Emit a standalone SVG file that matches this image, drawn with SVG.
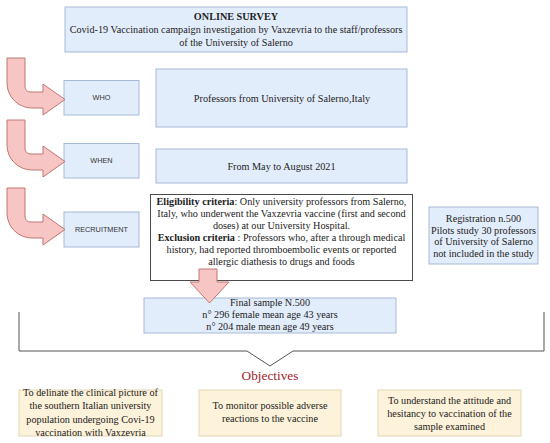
<svg xmlns="http://www.w3.org/2000/svg" width="550" height="443" viewBox="0 0 550 443">
<defs>
<style>
.blue{fill:#e2edfb;stroke:#a5b9d6;stroke-width:1}
.yel{fill:#fdf2da;stroke:#e3d7b5;stroke-width:1}
.wht{fill:#ffffff;stroke:#4a4a4a;stroke-width:1}
.t{font-family:"Liberation Serif","Times New Roman",serif;font-size:10.2px;fill:#222;text-anchor:middle}
.b{font-weight:bold}
.lab{font-family:"Liberation Sans",Arial,sans-serif;font-size:7.3px;fill:#333;text-anchor:middle}
.arr{fill:#f7c6c4;stroke:#c07773;stroke-width:1}
.brace{fill:none;stroke:#555;stroke-width:1}
</style>
<path id="bent" d="M7 0 H25 V28 Q25 34 31 34 H43 V26 L65 41.5 L43 57 V50 H32 A25 25 0 0 1 7 25 Z"/>
</defs>
<rect width="550" height="443" fill="#ffffff"/>

<g id="survey">
<rect class="blue" x="65" y="7" width="342" height="45"/>
<text class="t b" x="236" y="20">ONLINE SURVEY</text>
<text class="t" x="236" y="33">Covid-19 Vaccination campaign investigation by Vaxzevria to the staff/professors</text>
<text class="t" x="236" y="45.5">of the University of Salerno</text>
</g>

<g id="who">
<rect class="blue" x="64" y="80.5" width="75" height="34.5"/>
<text class="lab" x="101.5" y="100">WHO</text>
</g>
<g id="who-value">
<rect class="blue" x="156" y="69" width="251" height="58"/>
<text class="t" x="282" y="101.5">Professors from University of Salerno,Italy</text>
</g>

<g id="when">
<rect class="blue" x="64" y="143.5" width="75" height="34.5"/>
<text class="lab" x="101.5" y="163">WHEN</text>
</g>
<g id="when-value">
<rect class="blue" x="156" y="149" width="251" height="34"/>
<text class="t" x="281.5" y="169.5">From May to August 2021</text>
</g>

<g id="recruitment">
<rect class="blue" x="64" y="212" width="75" height="35"/>
<text class="lab" x="101.5" y="232">RECRUITMENT</text>
</g>
<g id="criteria">
<rect class="wht" x="150.5" y="194.5" width="262" height="86"/>
<text class="t" x="281.5" y="205.2"><tspan class="b">Eligibility criteria</tspan>: Only university professors from Salerno,</text>
<text class="t" x="281.5" y="217.2">Italy, who underwent the Vaxzevria vaccine (first and second</text>
<text class="t" x="281.5" y="229.2">doses) at our University Hospital.</text>
<text class="t" x="281.5" y="241.2"><tspan class="b">Exclusion criteria</tspan> : Professors who, after a through medical</text>
<text class="t" x="281.5" y="253.2">history, had reported thromboembolic events or reported</text>
<text class="t" x="281.5" y="265.2">allergic diathesis to drugs and foods</text>
</g>

<g id="registration">
<rect class="blue" x="429" y="207" width="109" height="57"/>
<text class="t" x="483.5" y="222">Registration n.500</text>
<text class="t" x="483.5" y="233.5">Pilots study 30 professors</text>
<text class="t" x="483.5" y="245">of University of Salerno</text>
<text class="t" x="483.5" y="256.5">not included in the study</text>
</g>

<g id="final-sample">
<rect class="blue" x="144" y="298" width="252" height="35"/>
<text class="t" x="270" y="306.2">Final sample N.500</text>
<text class="t" x="270" y="318.3">n° 296 female mean age 43 years</text>
<text class="t" x="270" y="330.4">n° 204 male mean age 49 years</text>
</g>

<g id="connectors">
<use href="#bent" class="arr" x="0" y="58"/>
<use href="#bent" class="arr" x="0" y="120"/>
<use href="#bent" class="arr" x="0" y="188"/>
<path class="arr" d="M199 269 H217 V282 H229 L209.5 303 L190 282 H199 Z"/>
<path class="brace" d="M19 312 V351 H247 L270 366 L293 351 H544 V312"/>
</g>

<g id="objectives-title">
<text x="270" y="379.5" style="font-family:'Liberation Serif','Times New Roman',serif;font-size:13.3px;fill:#a3222c;text-anchor:middle">Objectives</text>
</g>

<g id="objective-1">
<rect class="yel" x="19" y="390" width="143" height="46"/>
<text class="t" x="90.5" y="396">To delinate the clinical picture of</text>
<text class="t" x="90.5" y="409.3">the southern Italian university</text>
<text class="t" x="90.5" y="422.7">population undergoing Covi-19</text>
<text class="t" x="90.5" y="436">vaccination with Vaxzevria</text>
</g>
<g id="objective-2">
<rect class="yel" x="199" y="390" width="142" height="46"/>
<text class="t" x="270" y="409">To monitor possible adverse</text>
<text class="t" x="270" y="422">reactions to the vaccine</text>
</g>
<g id="objective-3">
<rect class="yel" x="378" y="390" width="143" height="46"/>
<text class="t" x="449.5" y="403.5">To understand the attitude and</text>
<text class="t" x="449.5" y="416.5">hesitancy to vaccination of the</text>
<text class="t" x="449.5" y="429.5">sample examined</text>
</g>
</svg>
